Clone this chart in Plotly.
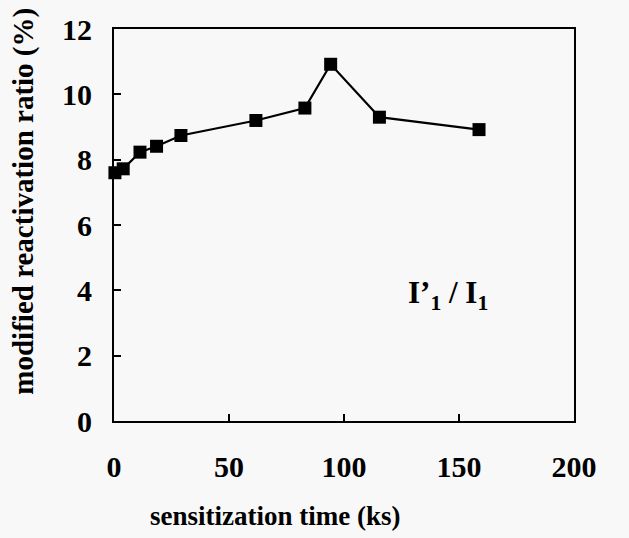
import plotly.graph_objects as go

time_ks = [0.4, 4.0, 11.3, 18.5, 29.1, 61.7, 83.0, 94.2, 115.4, 158.7]
ratio_pct = [7.6, 7.72, 8.23, 8.41, 8.74, 9.2, 9.58, 10.92, 9.3, 8.92]
x_ticks = [0, 50, 100, 150, 200]
y_ticks = [0, 2, 4, 6, 8, 10, 12]

FONT = "Liberation Serif"
W, H = 629, 538
ML, MR, MT, MB = 114, 55, 26, 117
PW, PH = W - ML - MR, H - MT - MB

fig = go.Figure()
fig.add_trace(go.Scatter(
    x=time_ks, y=ratio_pct, mode="lines+markers",
    line=dict(color="black", width=2.2),
    marker=dict(symbol="square", size=13, color="black"),
    showlegend=False, cliponaxis=False,
))

fig.add_annotation(
    x=145, y=3.85, xref="x", yref="y",
    text="<b>I’<sub>1</sub> / I<sub>1</sub></b>",
    showarrow=False, font=dict(family=FONT, size=31, color="black"),
)

# axis titles placed as in the reference (offset from the plot centre)
fig.add_annotation(
    x=(24 - ML) / PW, y=(H - MB - 200) / PH, xref="paper", yref="paper",
    xanchor="center", yanchor="middle",
    text="<b>modified reactivation ratio (%)</b>", textangle=-90,
    showarrow=False, font=dict(family=FONT, size=29, color="black"),
)
fig.add_annotation(
    x=(275 - ML) / PW, y=-(517 - (H - MB)) / PH, xref="paper", yref="paper",
    xanchor="center", yanchor="middle",
    text="<b>sensitization time (ks)</b>",
    showarrow=False, font=dict(family=FONT, size=27, color="black"),
)

fig.update_layout(
    width=W, height=H,
    margin=dict(l=ML, r=MR, t=MT, b=MB),
    paper_bgcolor="#f8f8f8", plot_bgcolor="#f8f8f8",
    font=dict(family=FONT, color="black"),
)
fig.update_xaxes(
    range=[0, 200], tickvals=x_ticks, ticktext=[f"<b>{v}</b>" for v in x_ticks],
    ticks="inside", ticklen=7, tickwidth=1.5,
    tickcolor="black", showgrid=False, zeroline=False,
    showline=True, linecolor="black", linewidth=2, mirror=True,
    tickfont=dict(family=FONT, size=30, color="black"),
    ticklabelstandoff=18,
)
fig.update_yaxes(
    range=[0, 12], tickvals=y_ticks, ticktext=[f"<b>{v}</b>" for v in y_ticks],
    ticks="inside", ticklen=7, tickwidth=1.5,
    tickcolor="black", showgrid=False, zeroline=False,
    showline=True, linecolor="black", linewidth=2, mirror=True,
    tickfont=dict(family=FONT, size=30, color="black"),
    ticklabelstandoff=14,
)

fig.write_html("out.html")
